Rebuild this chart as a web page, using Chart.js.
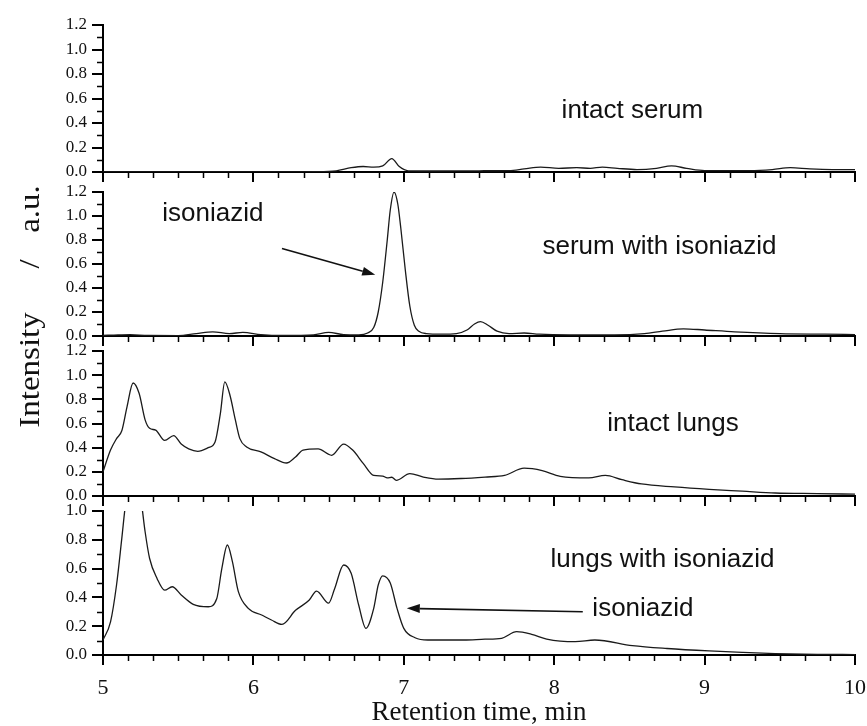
<!DOCTYPE html>
<html>
<head>
<meta charset="utf-8">
<script src="https://cdn.jsdelivr.net/npm/chart.js@4.4.1/dist/chart.umd.min.js"></script>
<style>
html, body { margin: 0; padding: 0; background: #fff; }
#wrap { position: relative; width: 867px; height: 726px; overflow: hidden; }
#wrap canvas { position: absolute; left: 0; top: 0; }
.ytitle {
  position: absolute;
  font-family: "Liberation Serif", serif;
  font-size: 30px;
  color: #111;
  white-space: nowrap;
  line-height: 1;
  transform: translate(-50%, -50%) rotate(-90deg) scaleX(1.1);
}
</style>
</head>
<body>
<div id="wrap">
  <canvas id="p1" width="867" height="726"></canvas>
  <canvas id="p2" width="867" height="726"></canvas>
  <canvas id="p3" width="867" height="726"></canvas>
  <canvas id="p4" width="867" height="726"></canvas>
  <div class="ytitle" style="left:29px; top:370px">Intensity</div>
  <div class="ytitle" style="left:29px; top:264px">/</div>
  <div class="ytitle" style="left:29px; top:209px">a.u.</div>
</div>
<script>
// retention time (min) and intensity (a.u.) for each trace
const serumT = [5.0, 5.5, 6.0, 6.4, 6.55, 6.65, 6.73, 6.8, 6.86, 6.92, 6.97, 7.03, 7.2, 7.5, 7.7, 7.8, 7.91, 8.03, 8.15, 8.24, 8.32, 8.42, 8.55, 8.68, 8.78, 8.88, 9.0, 9.3, 9.45, 9.57, 9.7, 9.85, 10.0];
const serumI = [0.0, 0.0, 0.0, 0.003, 0.01, 0.035, 0.045, 0.04, 0.05, 0.11, 0.045, 0.01, 0.008, 0.01, 0.012, 0.025, 0.04, 0.03, 0.035, 0.03, 0.04, 0.03, 0.02, 0.03, 0.05, 0.03, 0.012, 0.012, 0.02, 0.035, 0.025, 0.02, 0.02];

const serumIsoT = [5.0, 5.1, 5.18, 5.3, 5.5, 5.62, 5.73, 5.84, 5.93, 6.05, 6.2, 6.4, 6.5, 6.6, 6.7, 6.76, 6.8, 6.83, 6.86, 6.89, 6.91, 6.935, 6.96, 6.98, 7.01, 7.04, 7.07, 7.1, 7.15, 7.25, 7.35, 7.42, 7.47, 7.51, 7.56, 7.62, 7.7, 7.8, 7.9, 8.1, 8.4, 8.6, 8.72, 8.86, 9.0, 9.2, 9.5, 9.8, 10.0];
const serumIsoI = [0.005, 0.01, 0.012, 0.004, 0.003, 0.02, 0.035, 0.02, 0.03, 0.012, 0.005, 0.01, 0.03, 0.012, 0.01, 0.025, 0.07, 0.2, 0.45, 0.8, 1.05, 1.2, 1.1, 0.9, 0.55, 0.25, 0.09, 0.04, 0.02, 0.015, 0.02, 0.05, 0.1, 0.12, 0.09, 0.04, 0.02, 0.025, 0.015, 0.01, 0.01, 0.02, 0.04, 0.06, 0.05, 0.035, 0.02, 0.015, 0.012];

const lungsT = [5.0, 5.05, 5.09, 5.125, 5.16, 5.2, 5.24, 5.28, 5.31, 5.35, 5.41, 5.47, 5.52, 5.57, 5.63, 5.7, 5.745, 5.78, 5.81, 5.845, 5.88, 5.91, 5.955, 6.05, 6.14, 6.22, 6.28, 6.33, 6.43, 6.52, 6.6, 6.66, 6.73, 6.8, 6.86, 6.89, 6.92, 6.95, 7.04, 7.13, 7.23, 7.38, 7.54, 7.67, 7.8, 7.92, 8.04, 8.23, 8.34, 8.45, 8.58, 8.8, 9.03, 9.25, 9.47, 9.75, 10.0];
const lungsI = [0.20, 0.38, 0.475, 0.54, 0.74, 0.935, 0.85, 0.63, 0.56, 0.545, 0.46, 0.50, 0.43, 0.39, 0.37, 0.40, 0.447, 0.68, 0.945, 0.83, 0.63, 0.475, 0.406, 0.365, 0.31, 0.273, 0.323, 0.38, 0.39, 0.337, 0.43, 0.38, 0.27, 0.17, 0.165, 0.15, 0.155, 0.13, 0.185, 0.157, 0.14, 0.145, 0.157, 0.17, 0.23, 0.21, 0.163, 0.15, 0.17, 0.135, 0.10, 0.075, 0.055, 0.04, 0.025, 0.02, 0.015];

const lungsIsoT = [5.0, 5.05, 5.09, 5.125, 5.15, 5.2, 5.25, 5.28, 5.31, 5.36, 5.41, 5.46, 5.52, 5.6, 5.7, 5.756, 5.79, 5.827, 5.86, 5.9, 5.966, 6.055, 6.12, 6.19, 6.28, 6.37, 6.42, 6.5, 6.54, 6.6, 6.65, 6.7, 6.748, 6.8, 6.83, 6.86, 6.91, 6.955, 7.0, 7.075, 7.16, 7.4, 7.54, 7.65, 7.75, 7.85, 7.95, 8.14, 8.27, 8.52, 8.75, 9.03, 9.25, 9.47, 9.75, 10.0];
const lungsIsoI = [0.104, 0.23, 0.486, 0.81, 1.05, 1.35, 1.1, 0.856, 0.67, 0.53, 0.45, 0.474, 0.417, 0.352, 0.335, 0.39, 0.60, 0.764, 0.65, 0.44, 0.324, 0.278, 0.243, 0.213, 0.31, 0.38, 0.444, 0.36, 0.46, 0.625, 0.567, 0.347, 0.185, 0.324, 0.486, 0.55, 0.50, 0.324, 0.185, 0.12, 0.104, 0.104, 0.11, 0.116, 0.162, 0.144, 0.111, 0.093, 0.104, 0.065, 0.045, 0.028, 0.018, 0.01, 0.005, 0.003];

const xMin = 5, xMax = 10;
const yMaxes = [1.2, 1.2, 1.2, 1.0];
const xTitle = 'Retention time, min';

const W = 867, H = 726;

const panels = [
  { id: 'p1', t: serumT, v: serumI, top: 25, bottom: 172,
    notes: [{ text: 'intact serum', x: 8.52, y: 0.5 }], arrows: [] },
  { id: 'p2', t: serumIsoT, v: serumIsoI, top: 192, bottom: 336,
    notes: [{ text: 'isoniazid', x: 5.73, y: 1.02 }, { text: 'serum with isoniazid', x: 8.7, y: 0.74 }],
    arrows: [{ from: [6.19, 0.73], to: [6.81, 0.51] }] },
  { id: 'p3', t: lungsT, v: lungsI, top: 351, bottom: 496,
    notes: [{ text: 'intact lungs', x: 8.79, y: 0.6 }], arrows: [] },
  { id: 'p4', t: lungsIsoT, v: lungsIsoI, top: 511, bottom: 655,
    notes: [{ text: 'lungs with isoniazid', x: 8.72, y: 0.66 }, { text: 'isoniazid', x: 8.59, y: 0.32 }],
    arrows: [{ from: [8.19, 0.3], to: [7.02, 0.324] }] }
];

// minor ticks + text labels + arrows
const decor = {
  id: 'decor',
  afterDraw(chart, args, opts) {
    const ctx = chart.ctx, xs = chart.scales.x, ys = chart.scales.y;
    ctx.save();
    ctx.strokeStyle = '#000';
    ctx.lineWidth = 1.5;
    ctx.beginPath();
    for (let k = 1; k < (xMax - xMin) * 6; k++) {
      if (k % 6 === 0) continue;
      const px = Math.round(xs.getPixelForValue(xMin + k / 6)) + 0.5;
      ctx.moveTo(px, xs.top);
      ctx.lineTo(px, xs.top + 6);
    }
    for (let v = 0.1; v < ys.max; v += 0.2) {
      const py = Math.round(ys.getPixelForValue(v)) + 0.5;
      ctx.moveTo(ys.right, py);
      ctx.lineTo(ys.right - 6, py);
    }
    ctx.stroke();

    ctx.fillStyle = '#111';
    ctx.font = '26px "Liberation Sans", Arial, sans-serif';
    ctx.textAlign = 'center';
    ctx.textBaseline = 'middle';
    opts.notes.forEach(n => ctx.fillText(n.text, xs.getPixelForValue(n.x), ys.getPixelForValue(n.y)));

    opts.arrows.forEach(a => {
      const x1 = xs.getPixelForValue(a.from[0]), y1 = ys.getPixelForValue(a.from[1]);
      const x2 = xs.getPixelForValue(a.to[0]), y2 = ys.getPixelForValue(a.to[1]);
      const ang = Math.atan2(y2 - y1, x2 - x1);
      const hl = 13, hw = 4.5;
      ctx.strokeStyle = '#111';
      ctx.lineWidth = 1.6;
      ctx.beginPath();
      ctx.moveTo(x1, y1);
      ctx.lineTo(x2 - hl * Math.cos(ang), y2 - hl * Math.sin(ang));
      ctx.stroke();
      ctx.beginPath();
      ctx.moveTo(x2, y2);
      ctx.lineTo(x2 - hl * Math.cos(ang) + hw * Math.sin(ang), y2 - hl * Math.sin(ang) - hw * Math.cos(ang));
      ctx.lineTo(x2 - hl * Math.cos(ang) - hw * Math.sin(ang), y2 - hl * Math.sin(ang) + hw * Math.cos(ang));
      ctx.closePath();
      ctx.fill();
    });
    ctx.restore();
  }
};

panels.forEach((p, i) => {
  const last = i === panels.length - 1;
  const axisH = last ? H - p.bottom : 12;
  new Chart(document.getElementById(p.id), {
    type: 'line',
    data: {
      datasets: [{
        data: p.t.map((t, j) => ({ x: t, y: p.v[j] })),
        borderColor: '#1a1a1a',
        borderWidth: 1.3,
        pointRadius: 0,
        fill: false,
        cubicInterpolationMode: 'monotone'
      }]
    },
    options: {
      responsive: false,
      animation: false,
      events: [],
      layout: { padding: { top: p.top, bottom: H - p.bottom - axisH, left: 0, right: 12 } },
      plugins: {
        legend: { display: false },
        tooltip: { enabled: false },
        decor: { notes: p.notes, arrows: p.arrows }
      },
      scales: {
        x: {
          type: 'linear',
          min: xMin,
          max: xMax,
          ticks: {
            display: last,
            stepSize: 1,
            maxRotation: 0,
            padding: 10,
            color: '#111',
            font: { family: '"Liberation Serif"', size: 22 }
          },
          grid: { drawOnChartArea: false, tickLength: 10, color: '#000', lineWidth: 2 },
          border: { color: '#000', width: 2 },
          title: {
            display: last,
            text: xTitle,
            color: '#111',
            padding: 0,
            font: { family: '"Liberation Serif"', size: 27, lineHeight: 1 }
          },
          afterFit(s) { s.height = axisH; s.paddingLeft = 0; s.paddingRight = 0; }
        },
        y: {
          min: 0,
          max: yMaxes[i],
          ticks: {
            stepSize: 0.2,
            padding: 5,
            color: '#111',
            font: { family: '"Liberation Serif"', size: 17 },
            callback: v => v.toFixed(1)
          },
          grid: { drawOnChartArea: false, tickLength: 11, color: '#000', lineWidth: 2 },
          border: { color: '#000', width: 2 },
          afterFit(s) { s.width = 103; }
        }
      }
    },
    plugins: [decor]
  });
});
</script>
</body>
</html>
